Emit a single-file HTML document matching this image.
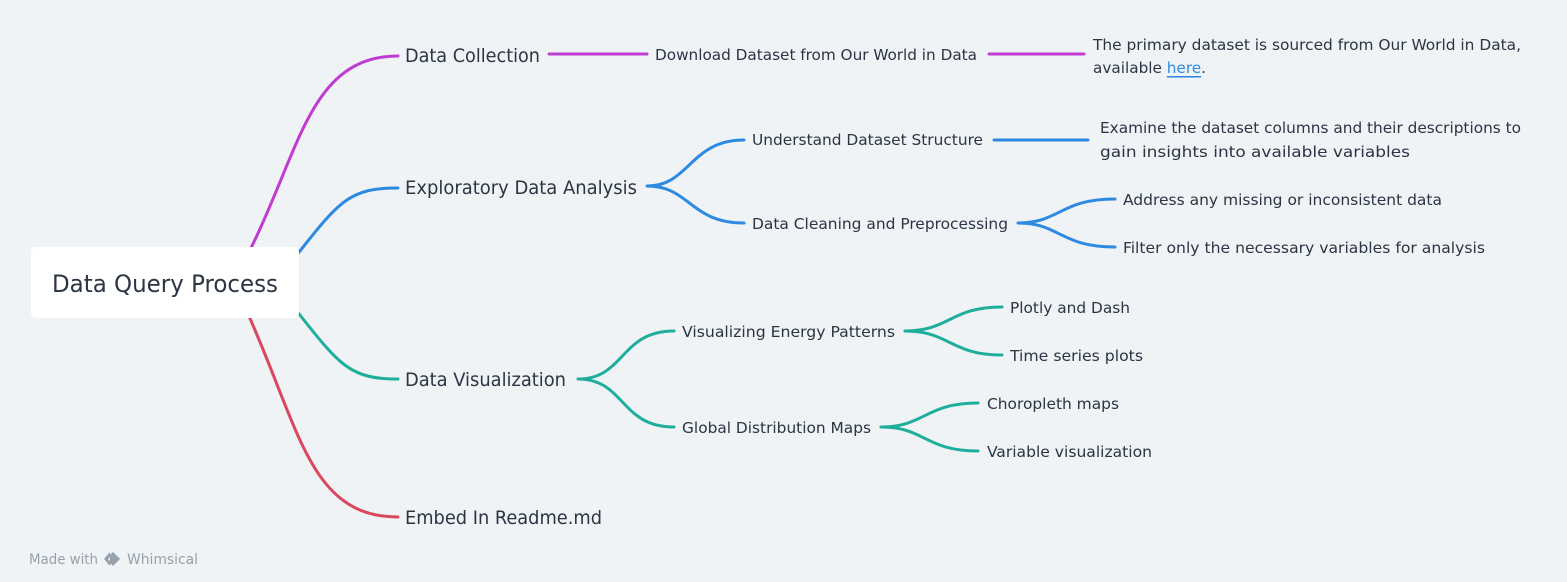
<!DOCTYPE html>
<html><head><meta charset="utf-8"><style>
html,body{margin:0;padding:0;background:#eff3f6;}
svg{display:block}
text{font-family:"DejaVu Sans Condensed","Liberation Sans",sans-serif;fill:#2b3544;dominant-baseline:central}
</style></head><body>
<svg width="1567" height="582" viewBox="0 0 1567 582" xmlns="http://www.w3.org/2000/svg">
<g fill="none" stroke-width="3" stroke-linecap="round">
<path d="M250 250 C300 150,310 56,398 56" stroke="#c03bd0"/>
<path d="M549 54 H647" stroke="#c03bd0"/>
<path d="M989 54 H1084" stroke="#c03bd0"/>
<path d="M296 256 C340 200,350 188,398 188" stroke="#2e8ae0"/>
<path d="M647 186 C690 186,690 140,744 140 M647 186 C690 186,690 223,744 223" stroke="#2e8ae0"/>
<path d="M994 140 H1088" stroke="#2e8ae0"/>
<path d="M1018 223 C1060 223,1060 199,1115 199 M1018 223 C1060 223,1060 247,1115 247" stroke="#2e8ae0"/>
<path d="M296 310 C340 366,350 379,398 379" stroke="#1fae9c"/>
<path d="M578 379 C625 379,620 331,674 331 M578 379 C625 379,620 427,674 427" stroke="#1fae9c"/>
<path d="M905 331 C950 331,950 307,1002 307 M905 331 C950 331,950 355,1002 355" stroke="#1fae9c"/>
<path d="M881 427 C925 427,925 403,978 403 M881 427 C925 427,925 451,978 451" stroke="#1fae9c"/>
<path d="M248 314 C300 430,310 517,398 517" stroke="#d9485f"/>
</g>
<rect x="31" y="247" width="268" height="71" rx="5" fill="#fff"/>
<text x="52" y="284" font-size="24" textLength="226" lengthAdjust="spacingAndGlyphs">Data Query Process</text>
<g font-size="19">
<text x="405" y="56" textLength="135" lengthAdjust="spacingAndGlyphs">Data Collection</text>
<text x="405" y="188" textLength="232" lengthAdjust="spacingAndGlyphs">Exploratory Data Analysis</text>
<text x="405" y="380" textLength="161" lengthAdjust="spacingAndGlyphs">Data Visualization</text>
<text x="405" y="518" textLength="197" lengthAdjust="spacingAndGlyphs">Embed In Readme.md</text>
</g>
<g font-size="15.5">
<text x="655" y="55" textLength="322" lengthAdjust="spacingAndGlyphs">Download Dataset from Our World in Data</text>
<text x="1093" y="45" textLength="428" lengthAdjust="spacingAndGlyphs">The primary dataset is sourced from Our World in Data,</text>
<text x="1093" y="68" textLength="113" lengthAdjust="spacingAndGlyphs">available <tspan fill="#2e8ae0" text-decoration="underline">here</tspan>.</text>
<text x="752" y="140" textLength="231" lengthAdjust="spacingAndGlyphs">Understand Dataset Structure</text>
<text x="1100" y="128" textLength="421" lengthAdjust="spacingAndGlyphs">Examine the dataset columns and their descriptions to</text>
<text x="1100" y="152" font-size="15" textLength="310" lengthAdjust="spacingAndGlyphs">gain insights into available variables</text>
<text x="752" y="224" textLength="256" lengthAdjust="spacingAndGlyphs">Data Cleaning and Preprocessing</text>
<text x="1123" y="200" textLength="319" lengthAdjust="spacingAndGlyphs">Address any missing or inconsistent data</text>
<text x="1123" y="248" textLength="362" lengthAdjust="spacingAndGlyphs">Filter only the necessary variables for analysis</text>
<text x="682" y="332" textLength="213" lengthAdjust="spacingAndGlyphs">Visualizing Energy Patterns</text>
<text x="1010" y="308" textLength="120" lengthAdjust="spacingAndGlyphs">Plotly and Dash</text>
<text x="1010" y="356" textLength="133" lengthAdjust="spacingAndGlyphs">Time series plots</text>
<text x="682" y="428" textLength="189" lengthAdjust="spacingAndGlyphs">Global Distribution Maps</text>
<text x="987" y="404" textLength="132" lengthAdjust="spacingAndGlyphs">Choropleth maps</text>
<text x="987" y="452" textLength="165" lengthAdjust="spacingAndGlyphs">Variable visualization</text>
</g>
<text x="29" y="560" font-size="14" style="fill:#97a1ac" textLength="69" lengthAdjust="spacingAndGlyphs">Made with</text>
<path d="M110 553 L105 559 L110 565 M113 553 L119 559 L113 565 L107 559Z" fill="#97a1ac" stroke="#97a1ac" stroke-width="1.5"/>
<text x="127" y="560" font-size="14" style="fill:#97a1ac" textLength="71" lengthAdjust="spacingAndGlyphs">Whimsical</text>
</svg>
</body></html>
